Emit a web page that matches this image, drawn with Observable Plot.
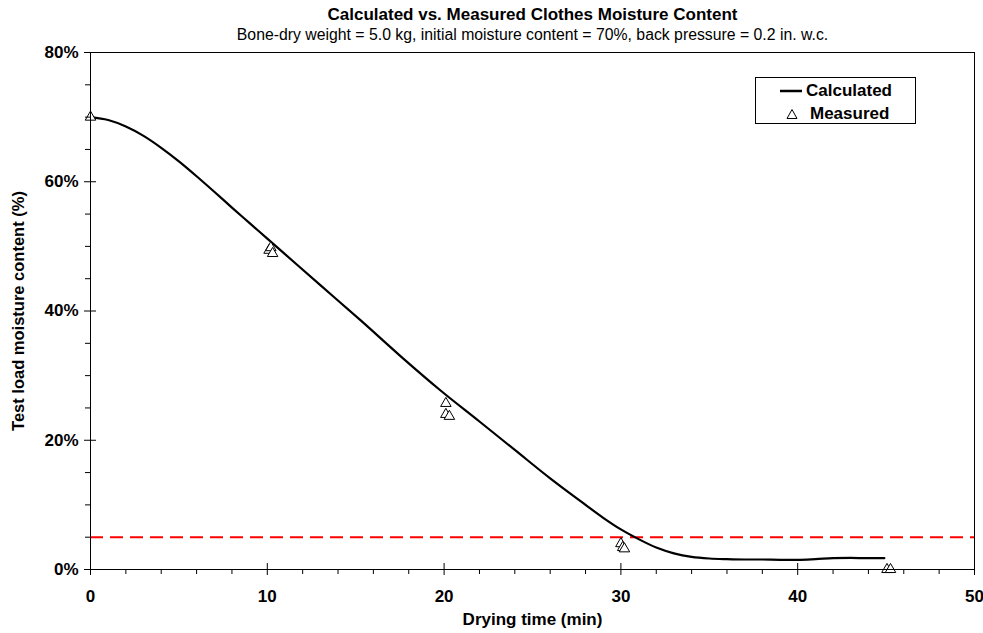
<!DOCTYPE html>
<html>
<head>
<meta charset="utf-8">
<script src="https://cdn.jsdelivr.net/npm/d3@7"></script>
<script src="https://cdn.jsdelivr.net/npm/@observablehq/plot@0.6"></script>
<style>
  html, body { margin: 0; padding: 0; background: #fff; }
  #wrap { position: relative; width: 983px; height: 633px; font-family: "Liberation Sans", Arial, sans-serif; }
  #legend { position: absolute; left: 755px; top: 77px; width: 161px; height: 47px; border: 1px solid #000; background: #fff; box-sizing: border-box; font-weight: bold; font-size: 17px; color: #000; }
  #legend .t { position: absolute; line-height: 20px; white-space: nowrap; }
  #legend svg { position: absolute; overflow: visible; }
</style>
</head>
<body>
<div id="wrap">
  <div id="chart"></div>
  <div id="legend">
    <svg style="left:24px;top:12px" width="22" height="2"><line x1="0" y1="1" x2="22" y2="1" stroke="#000" stroke-width="2.5"/></svg>
    <span class="t" style="left:50px;top:3px">Calculated</span>
    <svg style="left:30px;top:30px" width="12" height="12"><path d="M6,1.5 L11,10.5 L1,10.5 Z" fill="#fff" stroke="#000" stroke-width="1"/></svg>
    <span class="t" style="left:54px;top:26px">Measured</span>
  </div>
</div>
<script>
// Calculated curve (drying time in min, moisture content in %)
const calcTime = [0, 1, 2, 3, 4, 5, 6, 7, 8, 9, 10, 11, 13, 15.3, 17.5, 19.8, 22, 24, 26, 28, 29, 30, 31, 32, 33, 34, 35, 36, 37, 38, 39, 40, 41, 42, 43, 44, 44.9];
const calcMoisture = [70, 69.55, 68.55, 67.1, 65.25, 63.15, 60.85, 58.45, 56.0, 53.6, 51.2, 48.8, 44.0, 38.5, 33.1, 27.7, 22.9, 18.5, 14.1, 10.0, 8.0, 6.2, 4.7, 3.4, 2.5, 1.95, 1.7, 1.6, 1.55, 1.55, 1.5, 1.5, 1.6, 1.75, 1.8, 1.75, 1.75];

// Measured points
const measTime = [0, 10.1, 10.2, 10.3, 20.1, 20.1, 20.3, 30.0, 30.1, 30.2, 45.05, 45.25];
const measMoisture = [70, 49.4, 49.8, 48.9, 25.7, 24.0, 23.7, 4.0, 3.4, 3.2, 0, 0];

// Target line
const targetMoisture = [5];

// Ticks
const xMajor = [0, 10, 20, 30, 40, 50];
const xMinor = [2, 4, 6, 8, 12, 14, 16, 18, 22, 24, 26, 28, 32, 34, 36, 38, 42, 44, 46, 48];
const yMajor = [0, 20, 40, 60, 80];
const yMinor = [5, 10, 15, 25, 30, 35, 45, 50, 55, 65, 70, 75];

const titleText = ["Calculated vs. Measured Clothes Moisture Content"];
const subtitleText = ["Bone-dry weight = 5.0 kg, initial moisture content = 70%, back pressure = 0.2 in. w.c."];
const xLabel = ["Drying time (min)"];
const yLabel = ["Test load moisture content (%)"];

const calc = calcTime.map((t, i) => ({t, m: calcMoisture[i]}));
const meas = measTime.map((t, i) => ({t, m: measMoisture[i]}));

const chart = Plot.plot({
  width: 983,
  height: 633,
  marginTop: 52,
  marginLeft: 90,
  marginRight: 9,
  marginBottom: 64,
  style: {fontFamily: '"Liberation Sans", Arial, sans-serif', color: "#000", background: "#fff", overflow: "visible"},
  x: {domain: [0, 50]},
  y: {domain: [0, 80]},
  marks: [
    Plot.ruleY(targetMoisture, {stroke: "#ff0000", strokeWidth: 2, strokeDasharray: "13,7"}),
    Plot.line(calc, {x: "t", y: "m", stroke: "#000", strokeWidth: 2.2, curve: "monotone-x"}),
    Plot.dot(meas, {x: "t", y: "m", symbol: "triangle", r: 3.9, fill: "#fff", stroke: "#000", strokeWidth: 1}),
    Plot.frame({stroke: "#000", strokeWidth: 1}),
    // x axis ticks
    Plot.axisX({ticks: xMajor, tickSize: 12, insetBottom: 6, fill: "none", label: null}),
    Plot.axisX({ticks: xMinor, tickSize: 5, fill: "none", label: null}),
    Plot.axisX({ticks: xMajor, tickSize: 0, tickPadding: 20, stroke: "none", label: null, fontSize: 17, fontWeight: "bold"}),
    // y axis ticks
    Plot.axisY({ticks: yMajor, tickSize: 12, insetLeft: 6, fill: "none", label: null}),
    Plot.axisY({ticks: yMinor, tickSize: 5, fill: "none", label: null}),
    Plot.axisY({ticks: yMajor, tickSize: 0, tickPadding: 12, stroke: "none", label: null, tickFormat: d => d + "%", fontSize: 17, fontWeight: "bold"}),
    // titles
    Plot.text(titleText, {text: d => d, frameAnchor: "top", lineAnchor: "middle", dy: -38, fontSize: 17, fontWeight: "bold", fill: "#000"}),
    Plot.text(subtitleText, {text: d => d, frameAnchor: "top", lineAnchor: "middle", dy: -18, fontSize: 15.8, fill: "#000"}),
    Plot.text(xLabel, {text: d => d, frameAnchor: "bottom", lineAnchor: "middle", dy: 50, fontSize: 17, fontWeight: "bold", fill: "#000"}),
    Plot.text(yLabel, {text: d => d, frameAnchor: "left", textAnchor: "middle", lineAnchor: "middle", dx: -72, rotate: -90, fontSize: 16.5, fontWeight: "bold", fill: "#000"})
  ]
});
document.getElementById("chart").appendChild(chart);
</script>
</body>
</html>
